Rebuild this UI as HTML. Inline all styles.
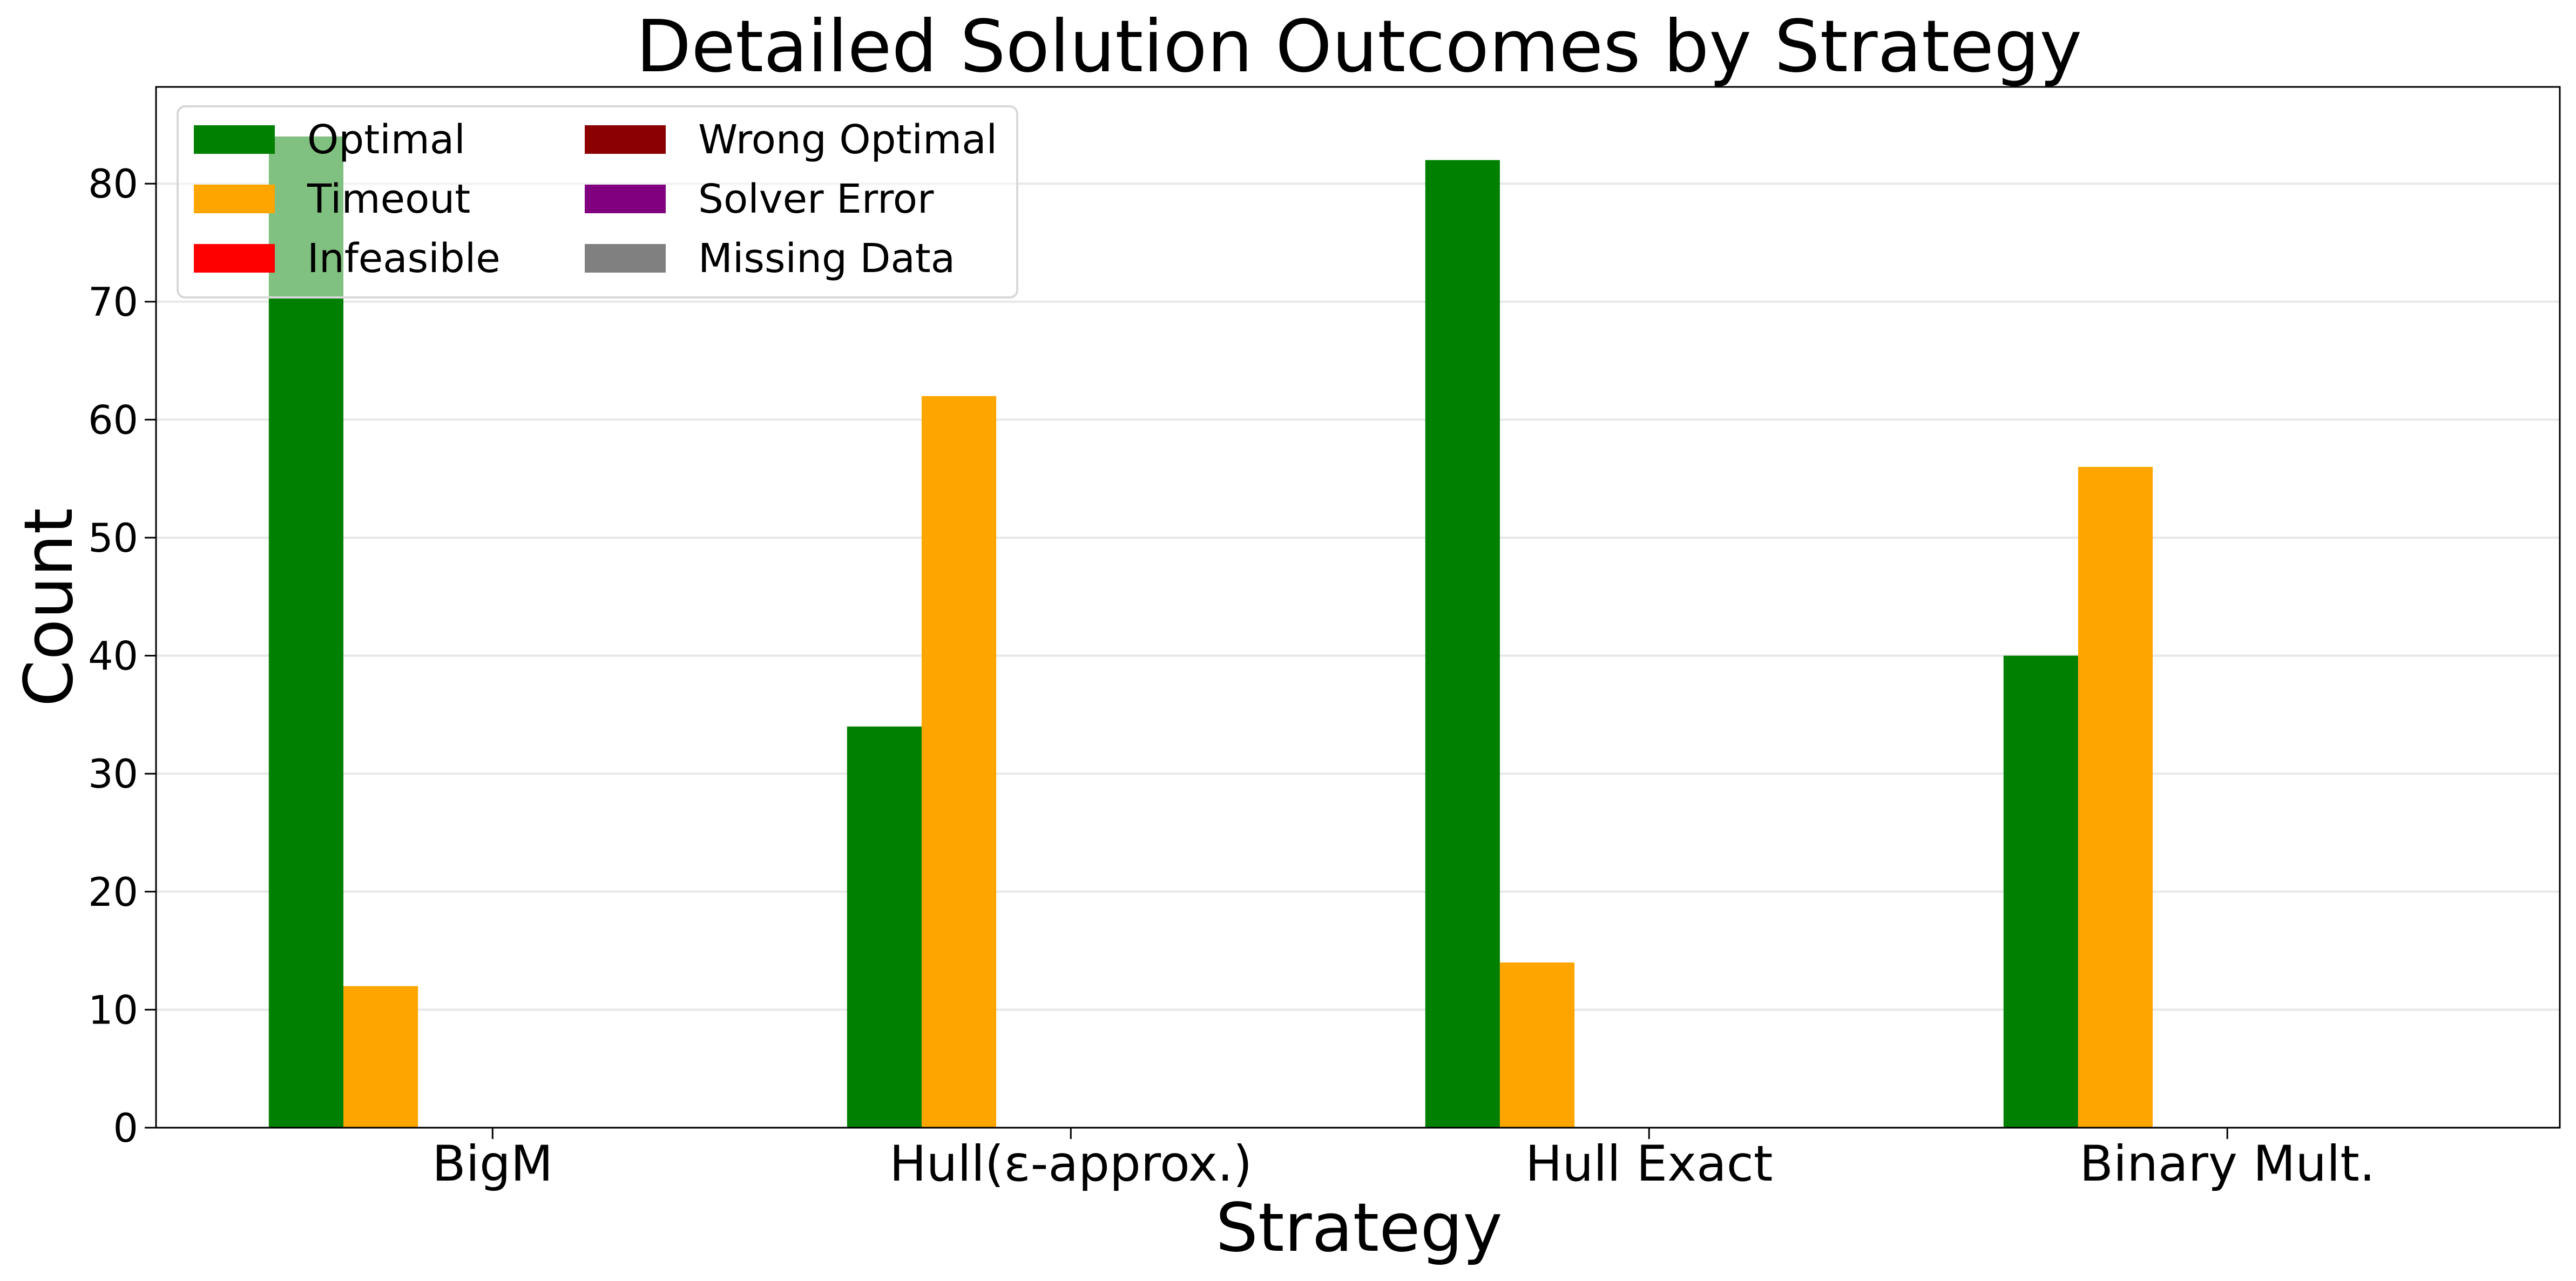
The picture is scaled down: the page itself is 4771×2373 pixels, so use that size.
<!DOCTYPE html>
<html><head><meta charset="utf-8"><style>
html,body{margin:0;padding:0;background:#fff;}
svg{display:block;font-family:"DejaVu Sans","Liberation Sans",sans-serif;}
</style></head><body>
<svg id="chart" width="4771" height="2373" viewBox="0 0 4771 2373" xmlns="http://www.w3.org/2000/svg">
<rect width="4771" height="2373" fill="#fff"/>
<text x="2517" y="132" font-size="133" text-anchor="middle">Detailed Solution Outcomes by Strategy</text>
<g id="grid"></g><g id="bars"></g><g id="axes"></g><g id="legend"></g>
<text x="2517" y="2317" font-size="124" text-anchor="middle">Strategy</text>
<text x="0" y="0" font-size="124" text-anchor="middle" transform="translate(133,1125) rotate(-90)">Count</text>
</svg>
<script>
const categories = ["BigM", "Hull(ε-approx.)", "Hull Exact", "Binary Mult."];
const seriesNames = ["Optimal", "Timeout", "Infeasible", "Wrong Optimal", "Solver Error", "Missing Data"];
const seriesColors = ["#008000", "#ffa500", "#ff0000", "#8b0000", "#800080", "#808080"];
const optimal = [84, 34, 82, 40];
const timeout = [12, 62, 14, 56];
const infeasible = [0, 0, 0, 0];
const wrongOptimal = [0, 0, 0, 0];
const solverError = [0, 0, 0, 0];
const missingData = [0, 0, 0, 0];
const yTicks = [0, 10, 20, 30, 40, 50, 60, 70, 80];

const series = [optimal, timeout, infeasible, wrongOptimal, solverError, missingData];
const NS = "http://www.w3.org/2000/svg";
const L = 289, R = 4741, T = 161, B = 2089;
const barW = 0.129;
const xMin = -0.582, xMax = 3.575, yMax = 88.2;
const xs = v => L + (v - xMin) / (xMax - xMin) * (R - L);
const ys = v => B - v / yMax * (B - T);
function mk(tag, attrs, parent) { const e = document.createElementNS(NS, tag); for (const k in attrs) e.setAttribute(k, attrs[k]); parent.appendChild(e); return e; }
const grid = document.getElementById('grid'), bars = document.getElementById('bars'), axes = document.getElementById('axes'), legend = document.getElementById('legend');

yTicks.forEach(t => {
  const g = mk('line', {x1: L, x2: R, y1: ys(t), y2: ys(t), stroke: '#b0b0b0', 'stroke-opacity': 0.3, 'stroke-width': 4}, grid);
  
  
  const tk = mk('line', {x1: L - 21, x2: L, y1: ys(t), y2: ys(t), stroke: '#000', 'stroke-width': 3}, axes);
  
  
  const tx = mk('text', {x: L - 33, y: ys(t) + 26, 'font-size': 73, 'text-anchor': 'end'}, axes);
  tx.textContent = t;
  
  
});

const nS = series.length;
series.forEach((vals, si) => {
  vals.forEach((v, ci) => {
    if (v <= 0) return;
    const off = (si - nS / 2) * barW;
    const x0 = xs(ci + off), x1 = xs(ci + off + barW);
    const r = mk('rect', {x: x0, y: ys(v), width: x1 - x0, height: ys(0) - ys(v), fill: seriesColors[si]}, bars);
    
    
  });
});

categories.forEach((c, ci) => {
  const tk = mk('line', {x1: xs(ci), x2: xs(ci), y1: B, y2: B + 21, stroke: '#000', 'stroke-width': 3}, axes);
  
  
  const tx = mk('text', {x: xs(ci), y: B + 98, 'font-size': 91, 'text-anchor': 'middle'}, axes);
  tx.textContent = c;
  
  
});

const frame = mk('rect', {x: L, y: T, width: R - L, height: B - T, fill: 'none', stroke: '#000', 'stroke-width': 3}, axes);



const lb = mk('rect', {x: 329, y: 197, width: 1555, height: 354, rx: 14, fill: '#fff', 'fill-opacity': 0.5, stroke: '#d8d8d8', 'stroke-width': 4}, legend);


seriesNames.forEach((n, i) => {
  const col = Math.floor(i / 3), row = i % 3;
  const hx = col ? 1083 : 359, tx = col ? 1293 : 569, hy = 232 + row * 110;
  const g = mk('g', {}, legend);
  
  
  mk('rect', {x: hx, y: hy, width: 150, height: 53, fill: seriesColors[i]}, g);
  const t = mk('text', {x: tx, y: hy + 52, 'font-size': 74}, g);
  t.textContent = n;
});
</script>
</body></html>
